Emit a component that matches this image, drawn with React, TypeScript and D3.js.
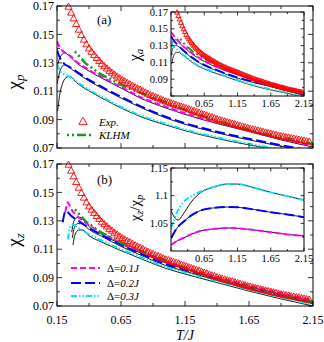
import React from "react";
import * as d3 from "d3";

// T/J grid ticks
const xMajor = [0.15, 0.65, 1.15, 1.65, 2.15];
const xMinor = [0.4, 0.9, 1.4, 1.9];
const xInMinor = [0.4, 0.9, 1.4, 1.9];
const chiMajor = [0.07, 0.09, 0.11, 0.13, 0.15, 0.17];
const chiMinor = [0.08, 0.1, 0.12, 0.14, 0.16];
const ratioMajor = [1.05, 1.1, 1.15];
const ratioMinor = [1.025, 1.075, 1.125];

// experimental susceptibility (triangles), [T/J, chi]
const expChi: [number, number][] = [
  [0.24, 0.1692], [0.26, 0.165], [0.28, 0.161], [0.3, 0.157], [0.32, 0.153], [0.34, 0.1493],
  [0.36, 0.146], [0.38, 0.1427], [0.4, 0.1398], [0.42, 0.1375], [0.44, 0.1352], [0.46, 0.133],
  [0.48, 0.131], [0.5, 0.129], [0.52, 0.1273], [0.54, 0.1257], [0.56, 0.124], [0.58, 0.1227],
  [0.6, 0.1213], [0.62, 0.12], [0.64, 0.1187], [0.66, 0.1175], [0.68, 0.1165], [0.7, 0.1155],
  [0.72, 0.1145], [0.74, 0.1135], [0.76, 0.1125], [0.78, 0.1116], [0.8, 0.1107], [0.82, 0.1098],
  [0.84, 0.1088], [0.86, 0.1079], [0.88, 0.107], [0.9, 0.1063], [0.92, 0.1055], [0.94, 0.1048],
  [0.96, 0.104], [0.98, 0.1033], [1.0, 0.1025], [1.02, 0.1019], [1.04, 0.1013], [1.06, 0.1007],
  [1.08, 0.1001], [1.1, 0.0995], [1.12, 0.0989], [1.14, 0.0983], [1.16, 0.0977], [1.18, 0.097],
  [1.2, 0.0964], [1.22, 0.0958], [1.24, 0.0951], [1.26, 0.0945], [1.28, 0.0938], [1.3, 0.0932],
  [1.32, 0.0926], [1.34, 0.0919], [1.36, 0.0913], [1.38, 0.0906], [1.4, 0.09], [1.42, 0.0895],
  [1.44, 0.089], [1.46, 0.0884], [1.48, 0.0879], [1.5, 0.0874], [1.52, 0.0869], [1.54, 0.0864],
  [1.56, 0.0858], [1.58, 0.0853], [1.6, 0.0848], [1.62, 0.0843], [1.64, 0.0838], [1.66, 0.0833],
  [1.68, 0.0828], [1.7, 0.0824], [1.72, 0.082], [1.74, 0.0815], [1.76, 0.0811], [1.78, 0.0806],
  [1.8, 0.0802], [1.82, 0.0798], [1.84, 0.0793], [1.86, 0.0789], [1.88, 0.0784], [1.9, 0.078],
  [1.92, 0.0777], [1.94, 0.0773], [1.96, 0.077], [1.98, 0.0766], [2.0, 0.0763], [2.02, 0.0759],
  [2.04, 0.0756], [2.06, 0.0752], [2.08, 0.0749], [2.1, 0.0745], [2.12, 0.0742],
];

// KLHM
const klhm: [number, number][] = [
  [0.29, 0.138], [0.33, 0.134], [0.37, 0.13], [0.43, 0.126], [0.49, 0.122], [0.56, 0.119],
  [0.62, 0.116], [0.7, 0.1125], [0.8, 0.109], [0.9, 0.1055], [1.0, 0.102], [1.15, 0.097],
  [1.4, 0.0893], [1.65, 0.0828], [1.9, 0.0775], [2.15, 0.0728],
];

// panel (a) chi_p
const magA: [number, number][] = [[0.15, 0.145], [0.17, 0.141], [0.2, 0.138], [0.23, 0.1365], [0.26, 0.1345], [0.3, 0.131], [0.4, 0.125], [0.5, 0.12], [0.65, 0.113], [0.8, 0.106], [1.0, 0.099], [1.15, 0.0945], [1.4, 0.088], [1.65, 0.0825], [1.9, 0.0765], [2.15, 0.0715]];
const bluA: [number, number][] = [[0.15, 0.139], [0.17, 0.134], [0.19, 0.131], [0.21, 0.129], [0.24, 0.1275], [0.3, 0.124], [0.4, 0.118], [0.5, 0.113], [0.65, 0.106], [0.8, 0.0995], [1.0, 0.092], [1.15, 0.0875], [1.4, 0.0815], [1.65, 0.0765], [1.9, 0.072], [2.15, 0.068]];
const cyaA: [number, number][] = [[0.15, 0.129], [0.17, 0.125], [0.2, 0.122], [0.23, 0.121], [0.26, 0.1195], [0.3, 0.117], [0.4, 0.111], [0.5, 0.106], [0.65, 0.099], [0.8, 0.093], [1.0, 0.087], [1.15, 0.083], [1.4, 0.0775], [1.65, 0.073], [1.9, 0.069], [2.15, 0.0655]];
const blkA1: [number, number][] = [[0.15, 0.127], [0.17, 0.133], [0.19, 0.136], [0.21, 0.137], [0.23, 0.136], [0.26, 0.1337], [0.3, 0.1302], [0.4, 0.1242], [0.5, 0.1192], [0.65, 0.1122], [0.8, 0.1052], [1.0, 0.0982], [1.15, 0.0937], [1.4, 0.0872], [1.65, 0.0817], [1.9, 0.0757], [2.15, 0.0707]];
const blkA2: [number, number][] = [[0.15, 0.115], [0.17, 0.123], [0.19, 0.1275], [0.21, 0.1285], [0.24, 0.127], [0.3, 0.1232], [0.4, 0.1172], [0.5, 0.1122], [0.65, 0.1052], [0.8, 0.0987], [1.0, 0.0912], [1.15, 0.0867], [1.4, 0.0807], [1.65, 0.0757], [1.9, 0.0712], [2.15, 0.0672]];
const blkA3: [number, number][] = [[0.155, 0.096], [0.17, 0.107], [0.19, 0.1145], [0.22, 0.1195], [0.25, 0.1205], [0.3, 0.1162], [0.4, 0.1102], [0.5, 0.1052], [0.65, 0.0982], [0.8, 0.0922], [1.0, 0.0862], [1.15, 0.0822], [1.4, 0.0767], [1.65, 0.0722], [1.9, 0.0682], [2.15, 0.0647]];

// panel (b) chi_z
const magB: [number, number][] = [[0.215, 0.136], [0.225, 0.141], [0.235, 0.143], [0.25, 0.1405], [0.27, 0.137], [0.3, 0.134], [0.4, 0.127], [0.5, 0.1215], [0.65, 0.1145], [0.8, 0.1085], [1.0, 0.1015], [1.15, 0.097], [1.4, 0.0905], [1.65, 0.0845], [1.9, 0.079], [2.15, 0.074]];
const bluB: [number, number][] = [[0.195, 0.129], [0.205, 0.134], [0.22, 0.137], [0.235, 0.136], [0.26, 0.1335], [0.3, 0.131], [0.4, 0.125], [0.5, 0.12], [0.65, 0.113], [0.8, 0.107], [1.0, 0.0995], [1.15, 0.0955], [1.4, 0.089], [1.65, 0.083], [1.9, 0.0775], [2.15, 0.0725]];
const cyaB: [number, number][] = [[0.235, 0.117], [0.245, 0.122], [0.26, 0.1265], [0.275, 0.1275], [0.3, 0.126], [0.4, 0.1205], [0.5, 0.116], [0.65, 0.11], [0.8, 0.1045], [1.0, 0.0975], [1.15, 0.0935], [1.4, 0.0875], [1.65, 0.0815], [1.9, 0.076], [2.15, 0.071]];
const blkB1: [number, number][] = [[0.265, 0.122], [0.28, 0.129], [0.3, 0.132], [0.33, 0.1325], [0.37, 0.1298], [0.4, 0.126], [0.5, 0.1205], [0.65, 0.1135], [0.8, 0.1075], [1.0, 0.1005], [1.15, 0.096], [1.4, 0.0895], [1.65, 0.0835], [1.9, 0.078], [2.15, 0.073]];
const blkB2: [number, number][] = [[0.27, 0.118], [0.285, 0.125], [0.31, 0.128], [0.34, 0.128], [0.38, 0.1255], [0.4, 0.124], [0.5, 0.119], [0.65, 0.112], [0.8, 0.106], [1.0, 0.0985], [1.15, 0.0945], [1.4, 0.088], [1.65, 0.082], [1.9, 0.0765], [2.15, 0.0715]];
const blkB3: [number, number][] = [[0.275, 0.113], [0.29, 0.12], [0.32, 0.1235], [0.35, 0.1235], [0.4, 0.1195], [0.5, 0.115], [0.65, 0.109], [0.8, 0.1035], [1.0, 0.0965], [1.15, 0.0925], [1.4, 0.0865], [1.65, 0.0805], [1.9, 0.075], [2.15, 0.07]];

// inset (a) chi_a
const magI: [number, number][] = [[0.15, 0.146], [0.2, 0.141], [0.25, 0.137], [0.3, 0.132], [0.4, 0.125], [0.5, 0.119], [0.65, 0.112], [0.85, 0.1045], [1.0, 0.1], [1.15, 0.096], [1.35, 0.091], [1.65, 0.085], [1.9, 0.08], [2.15, 0.0745]];
const bluI: [number, number][] = [[0.15, 0.141], [0.2, 0.135], [0.25, 0.131], [0.3, 0.127], [0.4, 0.12], [0.5, 0.114], [0.65, 0.107], [0.85, 0.1006], [1.0, 0.096], [1.15, 0.092], [1.35, 0.0876], [1.65, 0.082], [1.9, 0.077], [2.15, 0.0715]];
const cyaI: [number, number][] = [[0.15, 0.133], [0.2, 0.128], [0.25, 0.125], [0.3, 0.121], [0.4, 0.115], [0.5, 0.109], [0.65, 0.103], [0.85, 0.097], [1.0, 0.093], [1.15, 0.089], [1.35, 0.084], [1.65, 0.078], [1.9, 0.074], [2.15, 0.069]];
const blkI1: [number, number][] = [[0.15, 0.128], [0.18, 0.135], [0.22, 0.137], [0.27, 0.1335], [0.3, 0.1312], [0.4, 0.1242], [0.5, 0.1182], [0.65, 0.1112], [0.85, 0.1037], [1.0, 0.0992], [1.15, 0.0952], [1.35, 0.0902], [1.65, 0.0842], [1.9, 0.0792], [2.15, 0.0737]];
const blkI2: [number, number][] = [[0.15, 0.118], [0.18, 0.127], [0.22, 0.13], [0.27, 0.1285], [0.3, 0.1262], [0.4, 0.1192], [0.5, 0.1132], [0.65, 0.1062], [0.85, 0.0998], [1.0, 0.0952], [1.15, 0.0912], [1.35, 0.0868], [1.65, 0.0812], [1.9, 0.0762], [2.15, 0.0707]];
const blkI3: [number, number][] = [[0.16, 0.108], [0.19, 0.118], [0.23, 0.122], [0.28, 0.1215], [0.3, 0.1202], [0.4, 0.1142], [0.5, 0.1082], [0.65, 0.1022], [0.85, 0.0962], [1.0, 0.0922], [1.15, 0.0882], [1.35, 0.0832], [1.65, 0.0772], [1.9, 0.0732], [2.15, 0.0682]];

// inset (b) chi_z / chi_p
const magR: [number, number][] = [[0.15, 1.011], [0.2, 1.015], [0.25, 1.019], [0.33, 1.023], [0.45, 1.03], [0.59, 1.036], [0.8, 1.04], [1.0, 1.0415], [1.15, 1.041], [1.4, 1.038], [1.65, 1.034], [1.9, 1.03], [2.15, 1.027]];
const bluR: [number, number][] = [[0.15, 1.023], [0.2, 1.034], [0.25, 1.043], [0.33, 1.052], [0.45, 1.064], [0.59, 1.073], [0.8, 1.078], [1.0, 1.0795], [1.15, 1.079], [1.4, 1.075], [1.65, 1.07], [1.9, 1.066], [2.15, 1.061]];
const cyaR: [number, number][] = [[0.15, 1.041], [0.2, 1.058], [0.25, 1.072], [0.33, 1.087], [0.45, 1.099], [0.59, 1.107], [0.8, 1.116], [1.0, 1.121], [1.15, 1.121], [1.4, 1.114], [1.65, 1.106], [1.9, 1.099], [2.15, 1.092]];
const blkR3: [number, number][] = [[0.15, 1.074], [0.2, 1.061], [0.26, 1.056], [0.33, 1.066], [0.45, 1.088], [0.59, 1.105], [0.8, 1.116], [1.0, 1.121], [1.15, 1.121], [1.4, 1.114], [1.65, 1.106], [1.9, 1.099], [2.15, 1.092]];

const FONT = "'Liberation Serif', 'Times New Roman', serif";
const MAG = "#ff00ff";
const BLU = "#0000ff";
const CYA = "#00e5ee";
const GRN = "#1a9a1a";
const RED = "#ff0000";
const DASH_MAG = "6,3";
const DASH_BLU = "10,4";
const DASH_CYA = "6,2,1.5,2,1.5,2";
const DASH_GRN = "2,3,2,3,9,3";

type Pt = [number, number];

function lineOf(x: d3.ScaleLinear<number, number>, y: d3.ScaleLinear<number, number>) {
  return d3
    .line<Pt>()
    .x((d) => x(d[0]))
    .y((d) => y(d[1]))
    .curve(d3.curveMonotoneX);
}

function Frame(props: {
  x: d3.ScaleLinear<number, number>;
  y: d3.ScaleLinear<number, number>;
  xMaj: number[];
  xMin: number[];
  yMaj: number[];
  yMin: number[];
  len: number;
  lenMin: number;
  xLabels?: number[];
  yLabels?: number[];
  fs: number;
  xGap: number;
  yFmt: (v: number) => string;
}) {
  const { x, y, xMaj, xMin, yMaj, yMin, len, lenMin, xLabels, yLabels, fs, xGap, yFmt } = props;
  const [x0, x1] = x.range();
  const [y0, y1] = y.range(); // y0 bottom, y1 top
  const ticks: JSX.Element[] = [];
  const add = (k: string, a: number, b: number, c: number, d: number) =>
    ticks.push(<line key={k} x1={a} y1={b} x2={c} y2={d} stroke="#000" strokeWidth={0.8} />);
  xMaj.forEach((v, i) => {
    add("xb" + i, x(v), y0, x(v), y0 - len);
    add("xt" + i, x(v), y1, x(v), y1 + len);
  });
  xMin.forEach((v, i) => {
    add("xbm" + i, x(v), y0, x(v), y0 - lenMin);
    add("xtm" + i, x(v), y1, x(v), y1 + lenMin);
  });
  yMaj.forEach((v, i) => {
    add("yl" + i, x0, y(v), x0 + len, y(v));
    add("yr" + i, x1, y(v), x1 - len, y(v));
  });
  yMin.forEach((v, i) => {
    add("ylm" + i, x0, y(v), x0 + lenMin, y(v));
    add("yrm" + i, x1, y(v), x1 - lenMin, y(v));
  });
  return (
    <g>
      <rect x={x0} y={y1} width={x1 - x0} height={y0 - y1} fill="none" stroke="#000" strokeWidth={1} />
      {ticks}
      {(xLabels || []).map((v) => (
        <text key={"xl" + v} x={x(v)} y={y0 + xGap} fontSize={fs} textAnchor="middle" fontFamily={FONT}>
          {v.toFixed(2)}
        </text>
      ))}
      {(yLabels || []).map((v) => (
        <text key={"yl" + v} x={x0 - 3} y={y(v) + fs * 0.35} fontSize={fs} textAnchor="end" fontFamily={FONT}>
          {yFmt(v)}
        </text>
      ))}
    </g>
  );
}

function Curve({ gen, data, color, width, dash }: { gen: d3.Line<Pt>; data: Pt[]; color: string; width: number; dash?: string }) {
  return <path d={gen(data) || ""} fill="none" stroke={color} strokeWidth={width} strokeDasharray={dash} />;
}

function Triangles({ x, y, data, size }: { x: d3.ScaleLinear<number, number>; y: d3.ScaleLinear<number, number>; data: Pt[]; size: number }) {
  const sym = d3.symbol().type(d3.symbolTriangle).size(size)() || "";
  return (
    <g>
      {data.map((d, i) => (
        <path key={i} d={sym} transform={`translate(${x(d[0])},${y(d[1])})`} fill="none" stroke={RED} strokeWidth={0.9} />
      ))}
    </g>
  );
}

export default function App() {
  const W = 324;
  const H = 342;
  const xM = d3.scaleLinear().domain([0.15, 2.15]).range([57, 313]);
  const yA = d3.scaleLinear().domain([0.07, 0.17]).range([148, 6]);
  const yB = d3.scaleLinear().domain([0.07, 0.17]).range([306, 164]);
  const xI = d3.scaleLinear().domain([0.15, 2.15]).range([171, 304]);
  const yIA = d3.scaleLinear().domain([0.07, 0.17]).range([96, 12]);
  const yIB = d3.scaleLinear().domain([1.0, 1.15]).range([251, 168]);

  const gA = lineOf(xM, yA);
  const gB = lineOf(xM, yB);
  const gIA = lineOf(xI, yIA);
  const gIB = lineOf(xI, yIB);

  const f2 = (v: number) => v.toFixed(2);
  const fR = (v: number) => (Math.abs(v - 1.1) < 1e-9 ? "1.1" : v.toFixed(2));

  return (
    <svg width={W} height={H} style={{ position: "absolute", left: 0, top: 0, background: "#fff" }} fontFamily={FONT}>
      <defs>
        <clipPath id="cA"><rect x={57} y={6} width={256} height={142} /></clipPath>
        <clipPath id="cB"><rect x={57} y={164} width={256} height={142} /></clipPath>
        <clipPath id="cIA"><rect x={171} y={12} width={133} height={84} /></clipPath>
        <clipPath id="cIB"><rect x={171} y={168} width={133} height={83} /></clipPath>
      </defs>

      {/* panel (a) */}
      <g clipPath="url(#cA)">
        <Curve gen={gA} data={blkA1} color="#000" width={0.9} />
        <Curve gen={gA} data={blkA2} color="#000" width={0.9} />
        <Curve gen={gA} data={blkA3} color="#000" width={0.9} />
        <Curve gen={gA} data={magA} color={MAG} width={2} dash={DASH_MAG} />
        <Curve gen={gA} data={bluA} color={BLU} width={2} dash={DASH_BLU} />
        <Curve gen={gA} data={cyaA} color={CYA} width={2} dash={DASH_CYA} />
        <Curve gen={gA} data={klhm} color={GRN} width={2.5} dash={DASH_GRN} />
      </g>
      <Triangles x={xM} y={yA} data={expChi} size={22} />
      <Frame x={xM} y={yA} xMaj={xMajor} xMin={xMinor} yMaj={chiMajor} yMin={chiMinor} len={5} lenMin={3} yLabels={chiMajor} fs={12} xGap={18} yFmt={f2} />
      <text x={97} y={24} fontSize={13}>(a)</text>
      <text transform="translate(20,82) rotate(-90)" fontSize={19} textAnchor="middle">
        χ<tspan fontSize={13} fontStyle="italic" dy={4}>p</tspan>
      </text>
      {/* legend (a) */}
      <path d={d3.symbol().type(d3.symbolTriangle).size(30)() || ""} transform="translate(83,122)" fill="none" stroke={RED} strokeWidth={0.9} />
      <text x={99} y={126} fontSize={11} fontStyle="italic">Exp.</text>
      <line x1={67} x2={93} y1={135} y2={135} stroke={GRN} strokeWidth={2.5} strokeDasharray={DASH_GRN} />
      <text x={99} y={139} fontSize={11} fontStyle="italic">KLHM</text>

      {/* inset (a) */}
      <rect x={171} y={12} width={133} height={84} fill="#fff" />
      <g clipPath="url(#cIA)">
        <Curve gen={gIA} data={blkI1} color="#000" width={0.8} />
        <Curve gen={gIA} data={blkI2} color="#000" width={0.8} />
        <Curve gen={gIA} data={blkI3} color="#000" width={0.8} />
        <Curve gen={gIA} data={magI} color={MAG} width={1.8} dash={DASH_MAG} />
        <Curve gen={gIA} data={bluI} color={BLU} width={1.8} dash={DASH_BLU} />
        <Curve gen={gIA} data={cyaI} color={CYA} width={1.8} dash={DASH_CYA} />
        <Curve gen={gIA} data={klhm} color={GRN} width={2} dash={DASH_GRN} />
      </g>
      <Triangles x={xI} y={yIA} data={expChi} size={11} />
      <Frame x={xI} y={yIA} xMaj={xMajor} xMin={xInMinor} yMaj={chiMajor} yMin={chiMinor} len={3.5} lenMin={2} xLabels={[0.65, 1.15, 1.65, 2.15]} yLabels={[0.09, 0.11, 0.13, 0.15, 0.17]} fs={10.5} xGap={11} yFmt={f2} />
      <text transform="translate(140,55) rotate(-90)" fontSize={16} textAnchor="middle">
        χ<tspan fontSize={11} fontStyle="italic" dy={3}>a</tspan>
      </text>

      {/* panel (b) */}
      <g clipPath="url(#cB)">
        <Curve gen={gB} data={blkB1} color="#000" width={0.9} />
        <Curve gen={gB} data={blkB2} color="#000" width={0.9} />
        <Curve gen={gB} data={blkB3} color="#000" width={0.9} />
        <Curve gen={gB} data={magB} color={MAG} width={2} dash={DASH_MAG} />
        <Curve gen={gB} data={bluB} color={BLU} width={2} dash={DASH_BLU} />
        <Curve gen={gB} data={cyaB} color={CYA} width={2} dash={DASH_CYA} />
        <Curve gen={gB} data={klhm} color={GRN} width={2.5} dash={DASH_GRN} />
      </g>
      <Triangles x={xM} y={yB} data={expChi} size={22} />
      <Frame x={xM} y={yB} xMaj={xMajor} xMin={xMinor} yMaj={chiMajor} yMin={chiMinor} len={5} lenMin={3} xLabels={xMajor} yLabels={chiMajor} fs={12} xGap={18} yFmt={f2} />
      <text x={97} y={184} fontSize={13}>(b)</text>
      <text transform="translate(20,240) rotate(-90)" fontSize={19} textAnchor="middle">
        χ<tspan fontSize={13} fontStyle="italic" dy={4}>z</tspan>
      </text>
      <text x={185} y={340} fontSize={14} fontStyle="italic" textAnchor="middle">T/J</text>
      {/* legend (b) */}
      {[
        { c: MAG, d: DASH_MAG, y: 268, t: "0.1J" },
        { c: BLU, d: DASH_BLU, y: 283, t: "0.2J" },
        { c: CYA, d: DASH_CYA, y: 296, t: "0.3J" },
      ].map((l) => (
        <g key={l.t}>
          <line x1={71} x2={100} y1={l.y} y2={l.y} stroke={l.c} strokeWidth={2} strokeDasharray={l.d} />
          <text x={107} y={l.y + 4} fontSize={11}>
            Δ=<tspan fontStyle="italic">{l.t}</tspan>
          </text>
        </g>
      ))}

      {/* inset (b) */}
      <rect x={171} y={168} width={133} height={83} fill="#fff" />
      <g clipPath="url(#cIB)">
        <Curve gen={gIB} data={blkR3} color="#000" width={0.9} />
        <Curve gen={gIB} data={bluR} color="#000" width={0.9} />
        <Curve gen={gIB} data={magR} color="#000" width={0.9} />
        <Curve gen={gIB} data={cyaR} color={CYA} width={2} dash={DASH_CYA} />
        <Curve gen={gIB} data={bluR} color={BLU} width={2} dash={DASH_BLU} />
        <Curve gen={gIB} data={magR} color={MAG} width={2} dash={DASH_MAG} />
      </g>
      <Frame x={xI} y={yIB} xMaj={xMajor} xMin={xInMinor} yMaj={ratioMajor} yMin={ratioMinor} len={3.5} lenMin={2} xLabels={[0.65, 1.15, 1.65, 2.15]} yLabels={ratioMajor} fs={10.5} xGap={11} yFmt={fR} />
      <text transform="translate(140,208) rotate(-90)" fontSize={15} textAnchor="middle">
        χ<tspan fontSize={10} fontStyle="italic" dy={3}>z</tspan>
        <tspan dy={-3}>/χ</tspan>
        <tspan fontSize={10} fontStyle="italic" dy={3}>p</tspan>
      </text>
    </svg>
  );
}
